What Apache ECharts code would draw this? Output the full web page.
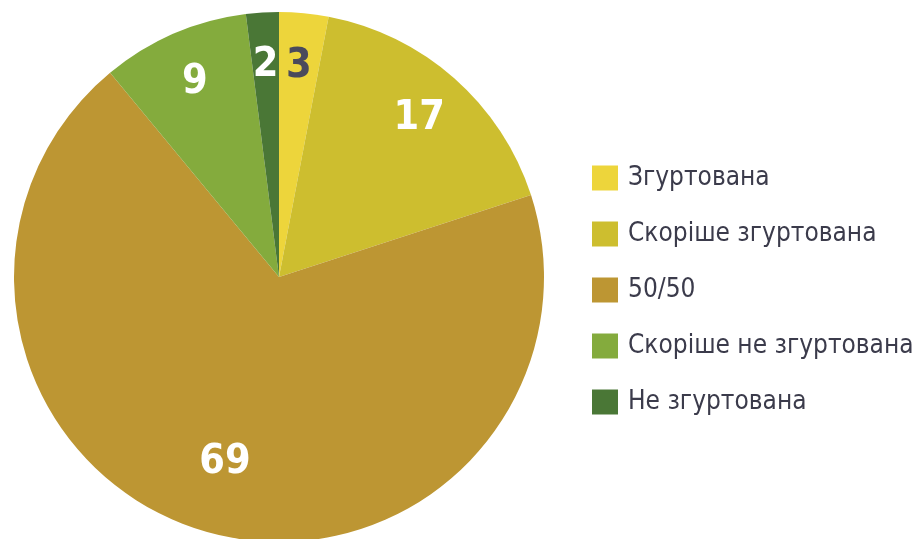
<!DOCTYPE html>
<html><head><meta charset="utf-8">
<script src="https://cdn.jsdelivr.net/npm/echarts@6/dist/echarts.min.js"></script>
<style>html,body{margin:0;padding:0;background:#fff}#c{width:921px;height:539px}</style>
</head><body><div id="c"></div>
<script>
const categories = ['Згуртована', 'Скоріше згуртована', '50/50', 'Скоріше не згуртована', 'Не згуртована'];
const values = [3, 17, 69, 9, 2];
const colors = ['#EDD53B', '#CDBE2F', '#BD9633', '#84AB3D', '#4A7736'];
const labelColors = ['#4A4A5C', '#ffffff', '#ffffff', '#ffffff', '#ffffff'];

const FONT = "'Liberation Sans Narrow', 'DejaVu Sans Condensed', 'Open Sans', sans-serif";
const center = [279, 277];
const R = 265;

const mainData = categories.map((n, i) => ({ name: n, value: values[i], itemStyle: { color: colors[i] } }));
const overlay = (showFn) => categories.map((n, i) => ({
  name: n, value: values[i],
  itemStyle: { color: 'rgba(0,0,0,0)' },
  label: { show: showFn(i), color: labelColors[i] }
}));

const chart = echarts.init(document.getElementById('c'));
chart.setOption({
  animation: false,
  legend: {
    orient: 'vertical', left: 587, top: 160,
    itemWidth: 26, itemHeight: 25, itemGap: 30,
    icon: 'rect',
    textStyle: { fontFamily: FONT, fontSize: 26, lineHeight: 25, color: '#3B3B4B', padding: [0, 0, 0, 5] },
    data: categories,
    selectedMode: false
  },
  series: [
    {
      type: 'pie', center: center, radius: [0, R], startAngle: 90, clockwise: true,
      label: { show: false }, labelLine: { show: false }, silent: true,
      data: mainData
    },
    {
      type: 'pie', center: center, radius: [153, R], startAngle: 90, clockwise: true,
      silent: true, legendHoverLink: false,
      label: { position: 'inside', fontFamily: FONT, fontSize: 41, fontWeight: 'bold', formatter: '{c}' },
      labelLine: { show: false },
      data: overlay(i => i !== 2)
    },
    {
      type: 'pie', center: center, radius: [116, R], startAngle: 90, clockwise: true,
      silent: true, legendHoverLink: false,
      label: { position: 'inside', fontFamily: FONT, fontSize: 41, fontWeight: 'bold', formatter: '{c}' },
      labelLine: { show: false },
      data: overlay(i => i === 2)
    }
  ]
});
</script></body></html>
